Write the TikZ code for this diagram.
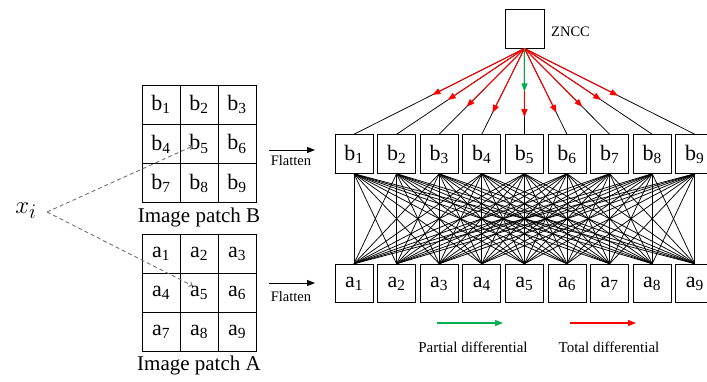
\documentclass[tikz,border=0pt]{standalone}
\usepackage{fontspec}
\setmainfont{Liberation Serif}
\usetikzlibrary{arrows.meta,calc}
\definecolor{pgreen}{RGB}{0,176,80}
\definecolor{pred}{RGB}{255,0,0}
\begin{document}
\begin{tikzpicture}[x=1pt,y=-1pt,
  cell/.style={draw,line width=0.9pt,minimum width=38pt,minimum height=39.3pt,inner sep=0pt,font=\fontsize{22}{26}\selectfont},
  vbox/.style={draw,line width=1pt,minimum width=38pt,minimum height=38.5pt,inner sep=0pt,font=\fontsize{22}{26}\selectfont},
  full/.style={line width=0.75pt,black},
  tip/.style={-{Triangle[length=8pt,width=6pt]}},
  dashedarrow/.style={draw=black!55,line width=0.9pt,dash pattern=on 4pt off 3pt,-{To[length=4pt,width=6pt]}},
  lbl/.style={inner sep=0pt,font=\fontsize{21}{25}\selectfont},
  small/.style={inner sep=0pt,font=\fontsize{14.5}{17}\selectfont},
  leg/.style={inner sep=0pt,font=\fontsize{15}{18}\selectfont},
  mathlbl/.style={inner sep=0pt,font=\fontsize{28}{30}\selectfont}
]
\clip (0,0) rectangle (707,381);
\fill[white] (0,0) rectangle (707,381);

% image patches
\foreach \i in {1,...,9}{
  \pgfmathtruncatemacro{\r}{(\i-1)/3}
  \pgfmathtruncatemacro{\c}{mod(\i-1,3)}
  \node[cell] (pb\i) at (161+38*\c, 104.65+39.3*\r) {b\textsubscript{\i}};
  \node[cell] (pa\i) at (161+38*\c, 253.65+39.3*\r) {a\textsubscript{\i}};
}
\node[lbl] (labB) at (199,217) {Image patch B};
\node[lbl] (labA) at (199,365) {Image patch A};

% x_i and dashed arrows
\node[mathlbl] (xi) at (26,211) {$x_i$};
\coordinate (xs) at (47,212);
\draw[dashedarrow] (xs) -- ($(pb5.center)+(-6,2)$);
\draw[dashedarrow] (xs) -- ($(pa5.center)+(-6,-7)$);

% flatten arrows
\coordinate (fB1) at (269,150); \coordinate (fB2) at (315,150);
\coordinate (fA1) at (269,283); \coordinate (fA2) at (315,283);
\draw[line width=0.9pt,tip] (fB1) -- (fB2);
\draw[line width=0.9pt,tip] (fA1) -- (fA2);
\node[small] (flB) at (291,160.5) {Flatten};
\node[small] (flA) at (291,296.7) {Flatten};

% flattened vectors
\foreach \i in {1,...,9}{
  \node[vbox] (b\i) at (354+42.6*\i-42.6, 154) {b\textsubscript{\i}};
  \node[vbox] (a\i) at (354+42.6*\i-42.6, 283.5) {a\textsubscript{\i}};
}
\foreach \i in {1,...,9}{
  \foreach \j in {1,...,9}{
    \draw[full] (b\i.south) -- (a\j.north);
  }
}

% ZNCC
\node[draw,line width=1pt,minimum width=39pt,minimum height=39pt,inner sep=0pt] (zncc) at (524.5,28.5) {};
\node[small,anchor=west] (znccl) at (551,32) {ZNCC};
\foreach \i in {1,...,9}{
  \draw[full] (zncc.south) -- (b\i.north);
}
\foreach \i/\f in {1/0.54,2/0.6,3/0.68,4/0.75,5/0.8,6/0.75,7/0.68,8/0.6,9/0.55}{
  \draw[pred,line width=1pt,tip] (zncc.south) -- ($(zncc.south)!\f!(b\i.north)$);
}
\draw[pgreen,line width=1pt,tip] (zncc.south) -- ($(zncc.south)!0.5!(b5.north)$);

% legend
\coordinate (g1) at (437,323); \coordinate (g2) at (503,323);
\coordinate (r1) at (570,323); \coordinate (r2) at (636,323);
\draw[pgreen,line width=1.2pt,tip] (g1) -- (g2);
\draw[pred,line width=1.2pt,tip] (r1) -- (r2);
\node[leg] (legP) at (473,347) {Partial differential};
\node[leg] (legT) at (609,347) {Total differential};
\end{tikzpicture}
\end{document}
